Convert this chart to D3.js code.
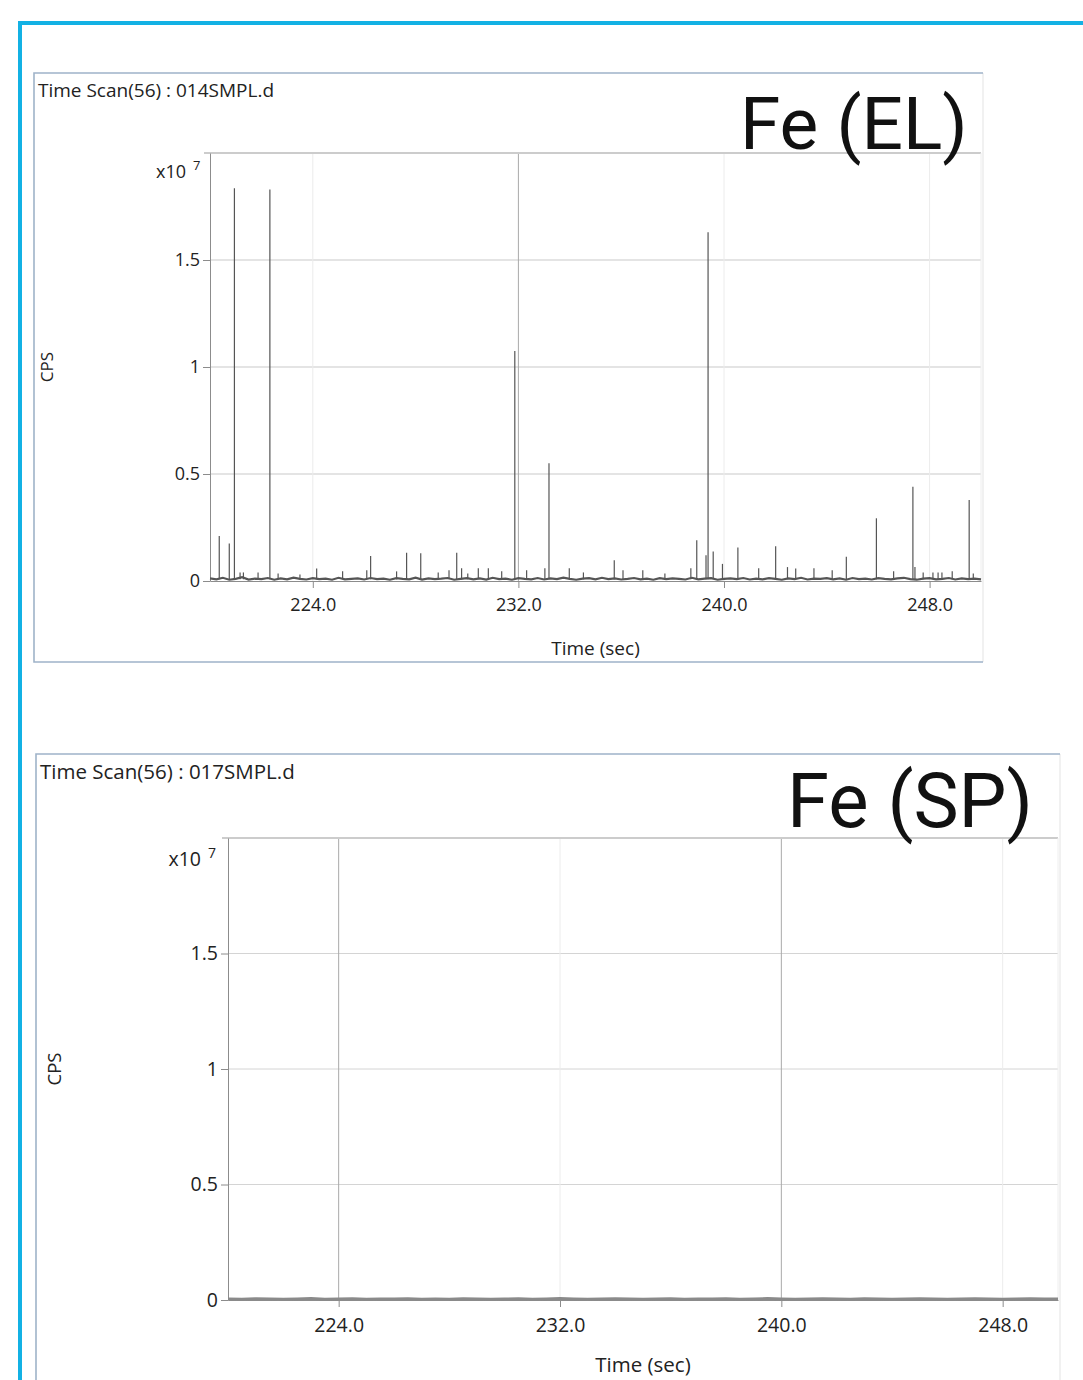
<!DOCTYPE html>
<html>
<head>
<meta charset="utf-8">
<script src="https://cdn.jsdelivr.net/npm/d3@7"></script>
<style>
  body { margin: 0; background: #fff; }
  svg text { font-family: "Open Sans", "Noto Sans", sans-serif; fill: #222; }
  svg .badge { font-family: Roboto, "Liberation Sans", sans-serif; fill: #111; }
</style>
</head>
<body>
<svg id="chart" width="1083" height="1380"></svg>
<script>
// axis values shared by both scans
const timeDomain = [220, 250];        // sec
const cpsDomain = [0, 2];             // CPS x10^7
const xTicks = [224, 232, 240, 248];
const yTicks = [0, 0.5, 1, 1.5];

// Fe (EL) scan: particle events, [time sec, CPS x10^7]
const elSpikes = [
    [220.36, 0.21], [220.75, 0.175], [220.95, 1.835], [222.33, 1.83],
    [226.25, 0.117], [227.65, 0.132], [228.20, 0.13], [229.60, 0.132],
    [231.86, 1.075], [233.19, 0.55], [235.73, 0.097], [238.94, 0.19],
    [239.30, 0.12], [239.38, 1.63], [239.58, 0.138], [239.94, 0.08],
    [240.54, 0.157], [242.01, 0.162], [244.76, 0.113], [245.93, 0.293],
    [247.35, 0.44], [249.54, 0.378],
    // small events
    [221.17, 0.04], [221.30, 0.04], [221.87, 0.04], [222.65, 0.035],
    [223.50, 0.03], [224.15, 0.058], [225.16, 0.045], [226.10, 0.05],
    [227.26, 0.045], [228.88, 0.04], [229.30, 0.05], [229.79, 0.06],
    [230.03, 0.035], [230.44, 0.06], [230.83, 0.06], [231.35, 0.045],
    [232.32, 0.05], [233.03, 0.06], [233.98, 0.06], [234.53, 0.04],
    [236.07, 0.05], [236.84, 0.05], [237.70, 0.035], [238.71, 0.06],
    [241.35, 0.06], [242.47, 0.065], [242.79, 0.058], [243.50, 0.06],
    [244.21, 0.05], [246.60, 0.045], [247.43, 0.065], [247.75, 0.04],
    [248.13, 0.04], [248.33, 0.04], [248.48, 0.04], [248.88, 0.045],
    [249.70, 0.035]
];

// Fe (EL) background, one reading every 0.25 s from 220 s, CPS x10^7
const elNoiseStep = 0.25;
const elNoise = [
    0.012, 0.008, 0.015, 0.006, 0.010, 0.018, 0.007, 0.011, 0.009, 0.014,
    0.006, 0.012, 0.008, 0.016, 0.010, 0.007, 0.013, 0.009, 0.011, 0.006,
    0.015, 0.008, 0.010, 0.012, 0.007, 0.014, 0.009, 0.011, 0.006, 0.013,
    0.010, 0.008, 0.016, 0.007, 0.012, 0.009, 0.011, 0.014, 0.006, 0.010,
    0.013, 0.008, 0.012, 0.007, 0.015, 0.009, 0.011, 0.006, 0.013, 0.010,
    0.008, 0.014, 0.007, 0.012, 0.009, 0.016, 0.010, 0.006, 0.011, 0.013,
    0.008, 0.015, 0.009, 0.012, 0.007, 0.010, 0.014, 0.008, 0.011, 0.006,
    0.013, 0.009, 0.012, 0.010, 0.007, 0.015, 0.008, 0.011, 0.013, 0.006,
    0.010, 0.012, 0.009, 0.014, 0.007, 0.011, 0.008, 0.013, 0.010, 0.006,
    0.012, 0.009, 0.015, 0.007, 0.011, 0.010, 0.013, 0.008, 0.012, 0.006,
    0.014, 0.009, 0.011, 0.007, 0.013, 0.010, 0.008, 0.012, 0.015, 0.009,
    0.006, 0.011, 0.013, 0.008, 0.010, 0.014, 0.007, 0.012, 0.009, 0.011,
    0.008
];

// Fe (SP) scan: flat, one reading every 0.5 s from 220 s, CPS x10^7
const spNoiseStep = 0.5;
const spNoise = [
    0.004, 0.003, 0.005, 0.004, 0.003, 0.004, 0.006, 0.003, 0.004, 0.005,
    0.003, 0.004, 0.004, 0.005, 0.003, 0.004, 0.003, 0.005, 0.004, 0.003,
    0.004, 0.005, 0.003, 0.004, 0.006, 0.004, 0.003, 0.004, 0.005, 0.004,
    0.003, 0.004, 0.005, 0.003, 0.004, 0.004, 0.005, 0.003, 0.004, 0.006,
    0.004, 0.003, 0.004, 0.005, 0.004, 0.003, 0.005, 0.004, 0.003, 0.004,
    0.005, 0.004, 0.003, 0.004, 0.005, 0.004, 0.003, 0.004, 0.005, 0.004,
    0.004
];

const svg = d3.select("#chart");

// outer cyan frame
svg.append("path")
    .attr("d", "M20,1380 V23 H1083")
    .attr("fill", "none")
    .attr("stroke", "#13b1e4")
    .attr("stroke-width", 4);

function drawPanel(p) {
    let g = svg.append("g");
    let [fx, fy, fw, fh] = p.frame;

    // panel frame: faint right side, blue-grey elsewhere
    g.append("line")
        .attr("x1", fx + fw).attr("x2", fx + fw)
        .attr("y1", fy).attr("y2", fy + fh)
        .attr("stroke", "#ececec").attr("stroke-width", 1.5);
    g.append("path")
        .attr("d", "M" + (fx + fw) + "," + fy + " H" + fx + " V" + (fy + fh) + " H" + (fx + fw))
        .attr("fill", "none")
        .attr("stroke", "#9fb3c9")
        .attr("stroke-width", 1.6);

    let x = d3.scaleLinear().domain(timeDomain).range([p.left, p.right]);
    let y = d3.scaleLinear().domain(cpsDomain).range([p.bottom, p.top]);

    // grid
    g.selectAll(".hgrid")
        .data(yTicks.filter(d => d > 0))
        .enter().append("line")
        .attr("x1", p.left).attr("x2", p.right)
        .attr("y1", d => y(d)).attr("y2", d => y(d))
        .attr("stroke", p.hgridColor)
        .attr("stroke-width", 1);

    g.selectAll(".vgrid")
        .data(xTicks)
        .enter().append("line")
        .attr("x1", d => x(d)).attr("x2", d => x(d))
        .attr("y1", p.top).attr("y2", p.bottom)
        .attr("stroke", d => p.strongGrid.includes(d) ? "#a9a9a9" : "#ececec")
        .attr("stroke-width", 1);

    // top and right edge of the plot
    g.append("line")
        .attr("x1", p.left - 6).attr("x2", p.right)
        .attr("y1", y(cpsDomain[1])).attr("y2", y(cpsDomain[1]))
        .attr("stroke", "#cccccc").attr("stroke-width", 2);
    g.append("line")
        .attr("x1", p.right).attr("x2", p.right)
        .attr("y1", p.top).attr("y2", p.bottom)
        .attr("stroke", "#eeeeee").attr("stroke-width", 1);

    // axes
    let yAxis = g.append("g")
        .attr("transform", "translate(" + p.left + ",0)")
        .call(d3.axisLeft(y).tickValues(yTicks).tickSize(7).tickSizeOuter(0)
            .tickPadding(3).tickFormat(d => String(d)));
    let xAxis = g.append("g")
        .attr("transform", "translate(0," + p.bottom + ")")
        .call(d3.axisBottom(x).tickValues(xTicks).tickSize(7).tickSizeOuter(0)
            .tickPadding(p.fontSize * 0.55).tickFormat(d3.format(".1f")));
    [yAxis, xAxis].forEach(a => {
        a.selectAll("path, line").attr("stroke", "#8c8c8c");
        a.selectAll("text")
            .attr("fill", "#222")
            .style("font-size", p.fontSize + "px");
        a.attr("font-family", null);
    });

    // trace
    let noise = p.noise.map((v, i) => [timeDomain[0] + i * p.noiseStep, v]);
    let line = d3.line()
        .x(d => x(d[0]))
        .y(d => y(d[1]))
        .curve(d3.curveLinear);

    g.selectAll(".spike")
        .data(p.spikes)
        .enter().append("line")
        .attr("x1", d => x(d[0])).attr("x2", d => x(d[0]))
        .attr("y1", y(0.008)).attr("y2", d => y(d[1]))
        .attr("stroke", "#555555")
        .attr("stroke-width", 1.2);

    g.append("path")
        .attr("d", line(noise))
        .attr("fill", "none")
        .attr("stroke", p.traceColor)
        .attr("stroke-width", p.traceWidth);

    // labels
    g.append("text")
        .attr("x", fx + 4).attr("y", p.titleY)
        .style("font-size", p.titleSize + "px")
        .text(p.title);

    g.append("text")
        .attr("x", p.multX).attr("y", p.multY)
        .attr("text-anchor", "end")
        .style("font-size", p.fontSize + "px")
        .text("x10");
    g.append("text")
        .attr("x", p.multX + 7).attr("y", p.multY - 8)
        .style("font-size", (p.fontSize * 0.72) + "px")
        .text("7");

    g.append("text")
        .attr("transform", "translate(" + p.cpsX + "," + ((p.top + p.bottom) / 2) + ") rotate(-90)")
        .attr("text-anchor", "middle")
        .style("font-size", (p.fontSize - 1) + "px")
        .text("CPS");

    g.append("text")
        .attr("x", (p.left + p.right) / 2).attr("y", p.xTitleY)
        .attr("text-anchor", "middle")
        .style("font-size", p.titleSize + "px")
        .text("Time (sec)");

    g.append("text")
        .attr("class", "badge")
        .attr("x", p.badgeX).attr("y", p.badgeY)
        .style("font-size", p.badgeSize + "px")
        .text(p.badge);
}

drawPanel({
    frame: [34, 73, 949, 589],
    left: 210, right: 981, top: 153, bottom: 581,
    fontSize: 18, titleSize: 19,
    title: "Time Scan(56) : 014SMPL.d", titleY: 97,
    multX: 186, multY: 178, cpsX: 53, xTitleY: 655,
    badge: "Fe (EL)", badgeX: 740, badgeY: 149, badgeSize: 73,
    strongGrid: [232], hgridColor: "#c9c9c9",
    spikes: elSpikes, noise: elNoise, noiseStep: elNoiseStep,
    traceColor: "#555555", traceWidth: 2.2
});

drawPanel({
    frame: [36, 754, 1024, 700],
    left: 228, right: 1058, top: 838, bottom: 1300,
    fontSize: 19.5, titleSize: 20.5,
    title: "Time Scan(56) : 017SMPL.d", titleY: 779,
    multX: 201, multY: 866, cpsX: 61, xTitleY: 1372,
    badge: "Fe (SP)", badgeX: 787, badgeY: 827, badgeSize: 76,
    strongGrid: [224, 240], hgridColor: "#d4d4d4",
    spikes: [], noise: spNoise, noiseStep: spNoiseStep,
    traceColor: "#8a8a8a", traceWidth: 3
});
</script>
</body>
</html>
